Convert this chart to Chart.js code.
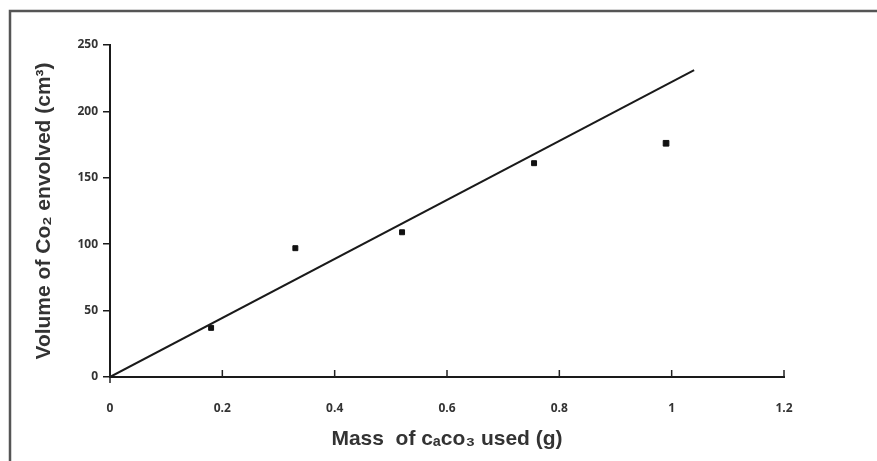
<!DOCTYPE html>
<html>
<head>
<meta charset="utf-8">
<script src="https://cdn.jsdelivr.net/npm/chart.js@4.4.1/dist/chart.umd.min.js"></script>
<style>
  body { margin: 0; background: #fff; }
  #wrap { position: relative; width: 877px; height: 461px; }
</style>
</head>
<body>
<div id="wrap"><canvas id="myChart" width="877" height="461"></canvas></div>
<script>
const massValues = [0.18, 0.33, 0.52, 0.755, 0.99];
const volumeValues = [37, 97, 109, 161, 176];
const fitMass = [0, 1.04];
const fitVolume = [0, 231];
const xTicks = [0, 0.2, 0.4, 0.6, 0.8, 1, 1.2];
const yTicks = [0, 50, 100, 150, 200, 250];

const tickFont = { family: "'Open Sans', 'Liberation Sans', sans-serif", size: 12, weight: "bold" };
const titleFont = { family: "'Liberation Sans', Arial, sans-serif", size: 21, weight: "bold" };

// frame around the figure + inward x ticks
const framePlugin = {
  id: "frame",
  beforeDraw(chart) {
    const c = chart.ctx;
    c.save();
    c.strokeStyle = "#555";
    c.lineWidth = 2.5;
    c.beginPath();
    c.moveTo(10, 461);
    c.lineTo(10, 11);
    c.lineTo(877, 11);
    c.stroke();
    c.restore();
  },
  afterDraw(chart) {
    const c = chart.ctx;
    const xs = chart.scales.x;
    const bottom = chart.chartArea.bottom;
    c.save();
    c.strokeStyle = "#222";
    c.lineWidth = 1.5;
    xTicks.forEach((v) => {
      const px = xs.getPixelForValue(v);
      c.beginPath();
      c.moveTo(px, bottom);
      c.lineTo(px, bottom - 7);
      c.stroke();
    });
    // short stub of the y axis below the origin
    const px0 = xs.getPixelForValue(0);
    c.beginPath();
    c.moveTo(px0, bottom);
    c.lineTo(px0, bottom + 6);
    c.stroke();
    c.restore();
  },
};

let ctx = document.getElementById("myChart").getContext("2d");

let myChart = new Chart(ctx, {
  type: "scatter",
  data: {
    datasets: [
      {
        label: "fit",
        type: "line",
        data: fitMass.map((m, i) => ({ x: m, y: fitVolume[i] })),
        borderColor: "#1a1a1a",
        borderWidth: 2,
        pointRadius: 0,
        fill: false,
      },
      {
        label: "measured",
        data: massValues.map((m, i) => ({ x: m, y: volumeValues[i] })),
        pointStyle: "rect",
        pointRadius: [3.5, 3.5, 3.5, 3.5, 4],
        backgroundColor: "#111",
        borderColor: "#111",
      },
    ],
  },
  options: {
    responsive: false,
    animation: false,
    layout: { padding: { left: 10, top: 45, right: 93, bottom: 0 } },
    plugins: {
      legend: { display: false },
      tooltip: { enabled: false },
    },
    scales: {
      x: {
        type: "linear",
        min: 0,
        max: 1.2,
        afterBuildTicks: (scale) => {
          scale.ticks = xTicks.map((v) => ({ value: v }));
        },
        afterFit: (scale) => {
          scale.height = 84;
        },
        grid: { display: true, drawOnChartArea: false, drawTicks: false },
        border: { display: true, color: "#1a1a1a", width: 2 },
        ticks: {
          color: "#333",
          font: tickFont,
          padding: 24,
          callback: (v) => String(+Number(v).toFixed(1)),
        },
        title: {
          display: true,
          text: "Mass  of c\u2090co\u2083 used (g)",
          color: "#333",
          font: titleFont,
          padding: { top: 4, bottom: 9 },
        },
      },
      y: {
        type: "linear",
        min: 0,
        max: 250,
        afterBuildTicks: (scale) => {
          scale.ticks = yTicks.map((v) => ({ value: v }));
        },
        afterFit: (scale) => {
          scale.width = 100;
        },
        grid: { display: true, drawOnChartArea: false, tickLength: 7, color: "#1a1a1a", lineWidth: 1.5 },
        border: { display: true, color: "#1a1a1a", width: 2 },
        ticks: {
          color: "#333",
          font: tickFont,
          padding: 5,
        },
        title: {
          display: true,
          text: "Volume of Co\u2082 envolved (cm\u00b3)",
          color: "#333",
          font: titleFont,
          padding: { top: 22 },
        },
      },
    },
  },
  plugins: [framePlugin],
});
</script>
</body>
</html>
